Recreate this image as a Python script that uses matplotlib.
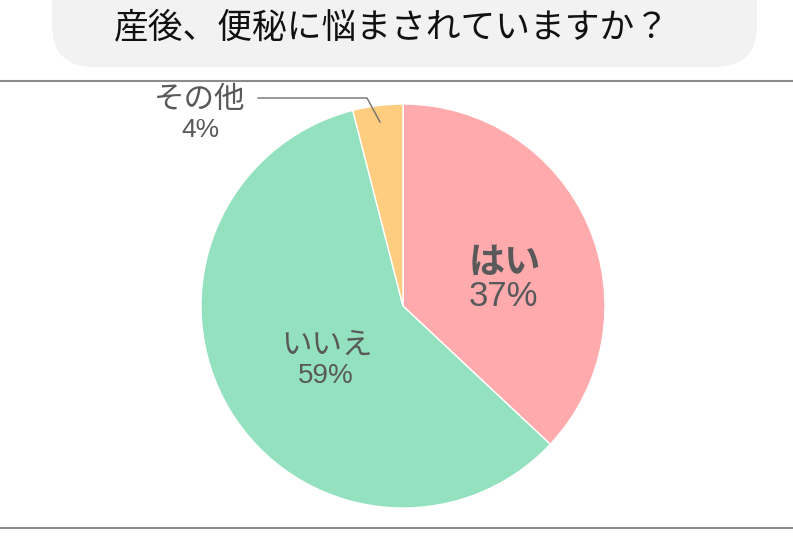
import matplotlib
matplotlib.use("Agg")
import matplotlib.pyplot as plt
from matplotlib.patches import FancyBboxPatch

plt.rcParams['font.family'] = ['Noto Sans CJK JP', 'DejaVu Sans']

title = "産後、便秘に悩まされていますか？"
categories = ["はい", "いいえ", "その他"]
values = [37, 59, 4]
colors = ["#FFABAD", "#94E1BF", "#FFCD7F"]

W, H = 793, 537
fig = plt.figure(figsize=(W / 100, H / 100), dpi=100)
ax = fig.add_axes([0, 0, 1, 1])

def Y(py):
    return H - py

# pie
cx, cy, r = 403, Y(306), 202
ax.pie(values, colors=colors, startangle=90, counterclock=False,
       center=(cx, cy), radius=r, frame=True,
       wedgeprops=dict(edgecolor='white', linewidth=1.0))
ax.set_xlim(0, W)
ax.set_ylim(0, H)
ax.set_aspect('equal')
ax.axis('off')

# title pill
box = FancyBboxPatch((52 + 42, Y(67) + 42), 705 - 84, 100,
                     boxstyle="round,pad=42,rounding_size=42",
                     fc="#F2F2F2", ec="none", zorder=1)
ax.add_patch(box)
ax.text(392, Y(28), title, ha='center', va='center', fontsize=25,
        color='#111111', zorder=3)

# separators
ax.plot([0, W], [Y(81), Y(81)], color='#8C8C8C', lw=1.5, zorder=2)
ax.plot([0, W], [Y(528), Y(528)], color='#8C8C8C', lw=1.5, zorder=2)

tc = '#595959'
pf = ['Liberation Sans', 'DejaVu Sans']
ax.text(505, Y(262), categories[0], ha='center', va='center', fontsize=26,
        fontweight='bold', color=tc)
ax.text(503, Y(297), f"{values[0]}%", ha='center', va='center', fontsize=25,
        color=tc, family=pf)
ax.text(327, Y(345), categories[1], ha='center', va='center', fontsize=22,
        color=tc)
ax.text(326, Y(376), f"{values[1]}%", ha='center', va='center', fontsize=20,
        color=tc, family=pf)
ax.text(200, Y(100), categories[2], ha='center', va='center', fontsize=22,
        color=tc)
ax.text(200, Y(130), f"{values[2]}%", ha='center', va='center', fontsize=19,
        color=tc, family=pf)

# leader line for small slice
ax.plot([258, 367, 380], [Y(98), Y(98), Y(122)], color='#707070', lw=1.0,
        zorder=5)

fig.savefig("out.png", dpi=100)
